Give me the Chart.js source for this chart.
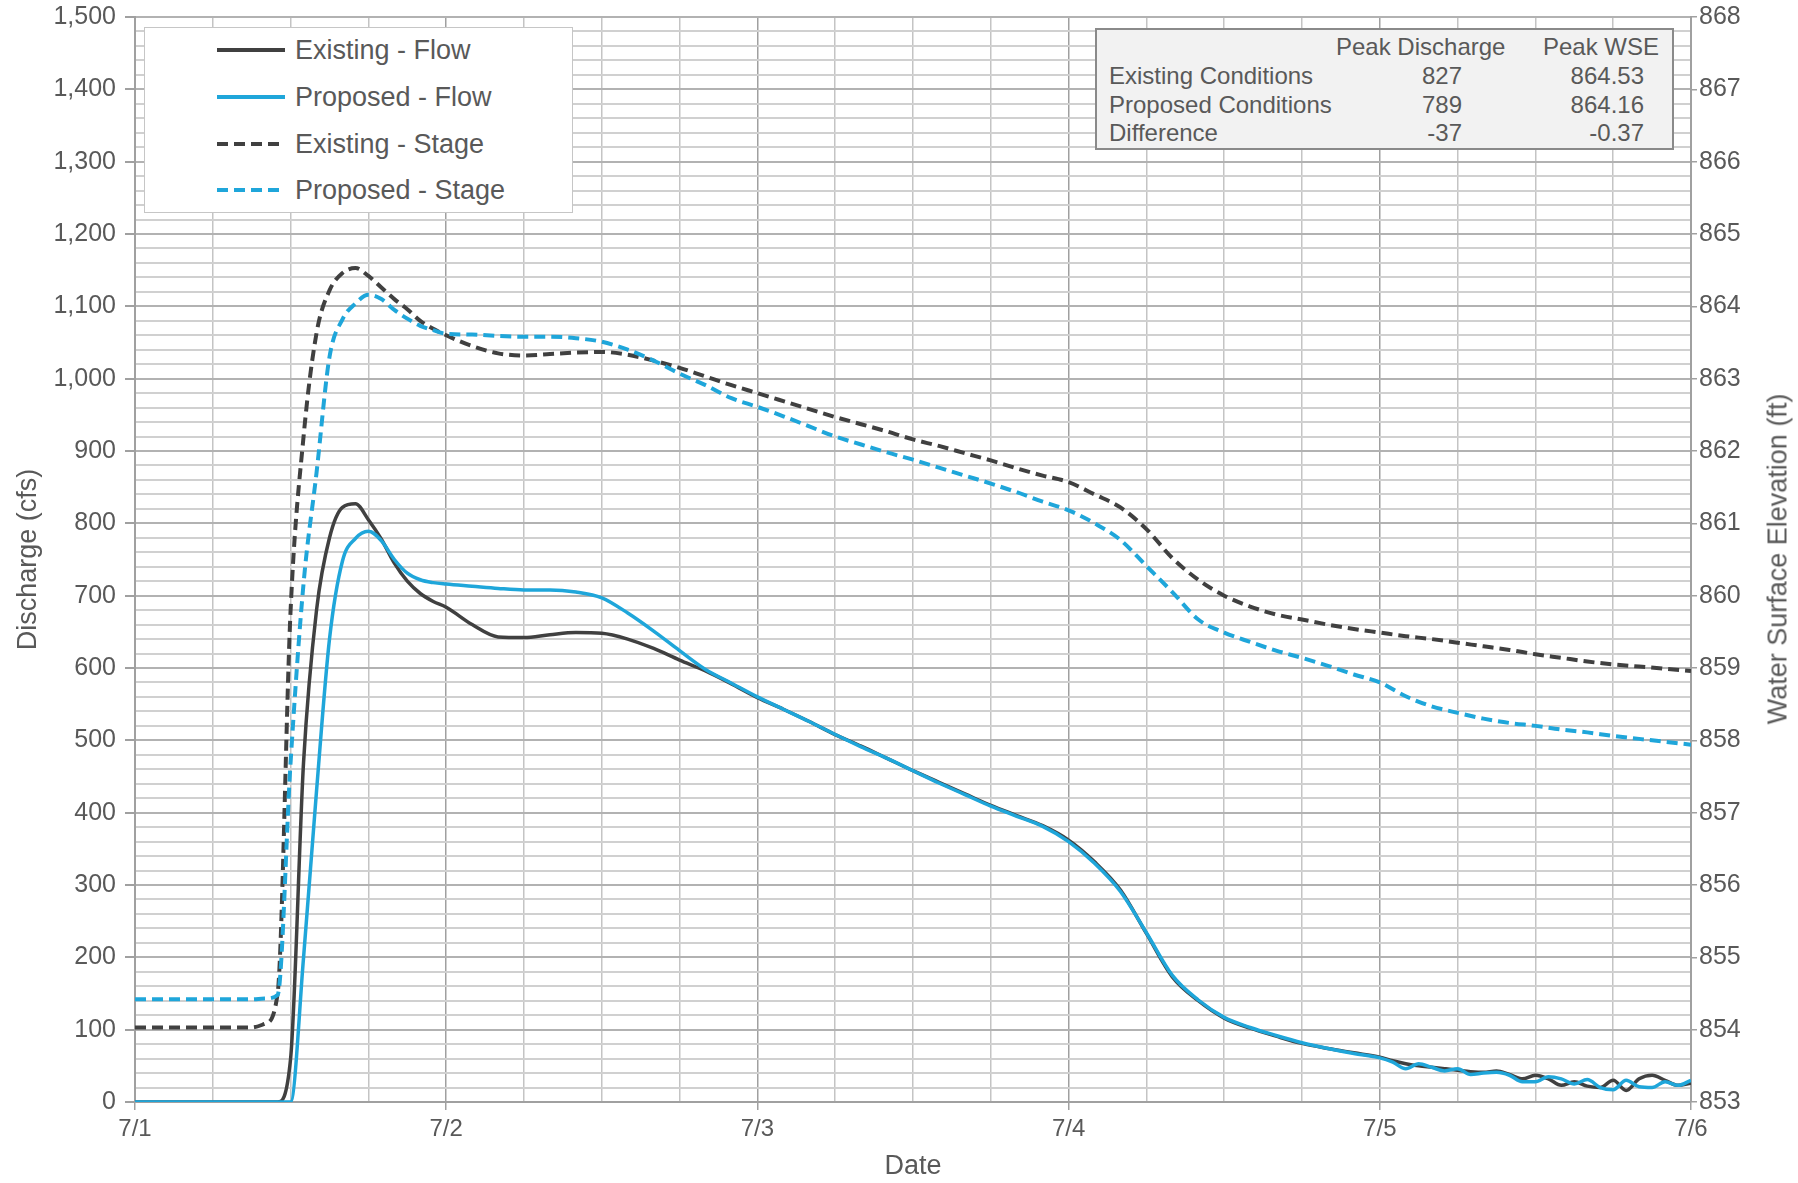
<!DOCTYPE html>
<html>
<head>
<meta charset="utf-8">
<title>Discharge and Stage Hydrograph</title>
<script src="https://cdn.jsdelivr.net/npm/chart.js@4.4.0/dist/chart.umd.min.js"></script>
<style>
  body { margin: 0; background: #fff; font-family: "Liberation Sans", Arial, sans-serif; color: #595959; }
  #wrap { position: relative; width: 1798px; height: 1183px; overflow: hidden; }
  #chart { position: absolute; left: 0; top: 0; }
  #legend { position: absolute; left: 144px; top: 27px; width: 429px; height: 186px; box-sizing: border-box;
            border: 1.5px solid #c6c6c6; background: #fff; }
  .item { position: absolute; left: 0; width: 100%; height: 40px; }
  .swatch { position: absolute; left: 72px; top: 18px; width: 68px; height: 4px; }
  .label { position: absolute; left: 150px; top: 0; font-size: 27px; line-height: 40px; white-space: nowrap; }
  #peaks { position: absolute; left: 1095px; top: 28px; width: 579px; height: 122px; box-sizing: border-box;
           border: 2px solid #8a8a8a; background: #f2f2f2; font-size: 24px; }
  .cell { position: absolute; line-height: 28px; white-space: nowrap; }
  #rtitle { position: absolute; left: 1778px; top: 559px; transform: translate(-50%, -50%) rotate(-90deg);
            font-size: 27px; white-space: nowrap; }
</style>
</head>
<body>
<div id="wrap">
  <canvas id="chart" width="1798" height="1183"></canvas>
  <div id="legend"></div>
  <div id="peaks"></div>
  <div id="rtitle">Water Surface Elevation (ft)</div>
</div>
<script>
// x axis: hours after midnight 7/1
const dateLabels = ['7/1', '7/2', '7/3', '7/4', '7/5', '7/6'];

const flowHours = [0, 11, 12, 13, 14, 15, 16, 17, 18, 19, 20, 21, 22, 23, 24,
  26, 28, 30, 32, 34, 36, 38, 40, 42, 44, 46, 48, 50, 52, 54, 56, 58, 60,
  62, 64, 66, 68, 70, 72, 74, 76, 78, 80, 82, 84, 86, 88, 90, 92, 94, 96,
  97, 98, 99, 100, 101, 102, 103, 104, 105, 106, 107, 108, 109, 110, 111, 112,
  113, 114, 115, 116, 117, 118, 119, 120];

// discharge, cfs
const existingFlow = [0, 0, 60, 470, 680, 780, 822, 827, 805, 778, 745, 720, 703, 692, 684,
  660, 643, 642, 646, 649, 648, 640, 627, 611, 596, 578, 559, 543, 526, 508, 492, 475, 458,
  442, 426, 410, 396, 382, 362, 332, 293, 233, 173, 140, 116, 102, 91, 81, 74, 68, 62,
  57, 53, 50, 48, 46, 44, 42, 41, 43, 38, 32, 37, 32, 23, 28, 22,
  20, 30, 16, 32, 37, 30, 23, 26];

const proposedFlow = [0, 0, 0, 200, 430, 640, 748, 779, 789, 776, 750, 731, 722, 718, 716,
  713, 710, 708, 708, 705, 697, 676, 651, 624, 598, 579, 560, 543, 526, 508, 491, 475, 458,
  441, 425, 409, 395, 381, 360, 330, 291, 234, 175, 141, 117, 103, 92, 82, 74, 67, 61,
  55, 46, 53, 48, 43, 46, 38, 40, 41, 37, 28, 28, 35, 32, 25, 31,
  20, 17, 30, 21, 20, 28, 23, 30];

const stageHours = [0, 9, 10, 11, 12, 13, 14, 15, 16, 17, 18, 19, 20, 21, 22, 23, 24,
  26, 28, 30, 32, 34, 36, 38, 40, 42, 44, 46, 48, 50, 52, 54, 56, 58, 60,
  62, 64, 66, 68, 70, 72, 74, 76, 78, 80, 82, 84, 86, 88, 90, 92, 94, 96,
  98, 100, 102, 104, 106, 108, 110, 112, 114, 116, 118, 120];

// water surface elevation, ft
const existingStage = [854.03, 854.03, 854.08, 854.50, 859.80, 862.20, 863.63, 864.22, 864.46, 864.53,
  864.42, 864.26, 864.10, 863.96, 863.80, 863.69, 863.60,
  863.45, 863.35, 863.32, 863.34, 863.36, 863.37, 863.33, 863.25, 863.15, 863.03, 862.91, 862.80,
  862.69, 862.58, 862.47, 862.37, 862.27, 862.16, 862.07, 861.97, 861.87, 861.76, 861.66, 861.57,
  861.40, 861.22, 860.92, 860.52, 860.22, 860.00, 859.85, 859.74, 859.67, 859.60, 859.54, 859.49,
  859.44, 859.40, 859.35, 859.30, 859.25, 859.19, 859.14, 859.09, 859.05, 859.02, 858.99, 858.96];

const proposedStage = [854.42, 854.42, 854.43, 854.48, 857.70, 860.17, 861.70, 863.30, 863.82, 864.04,
  864.16, 864.10, 863.95, 863.83, 863.73, 863.67, 863.62,
  863.61, 863.59, 863.58, 863.58, 863.56, 863.51, 863.40, 863.25, 863.07, 862.91, 862.73, 862.61,
  862.48, 862.34, 862.20, 862.09, 861.98, 861.88, 861.77, 861.66, 861.55, 861.43, 861.30, 861.18,
  861.00, 860.77, 860.41, 860.05, 859.67, 859.49, 859.36, 859.24, 859.14, 859.03, 858.91, 858.80,
  858.61, 858.47, 858.38, 858.30, 858.24, 858.20, 858.15, 858.11, 858.06, 858.02, 857.98, 857.94];

// summary table
const conditions = ['Existing Conditions', 'Proposed Conditions', 'Difference'];
const peakDischarge = ['827', '789', '-37'];
const peakWSE = ['864.53', '864.16', '-0.37'];

const dark = '#404040';
const blue = '#1fa6da';
const textColor = '#595959';

function pts(xs, ys) {
  return xs.map((x, i) => ({ x: x, y: ys[i] }));
}

const datasets = [
  { label: 'Existing - Flow', data: pts(flowHours, existingFlow), yAxisID: 'y',
    borderColor: dark, borderWidth: 3.5, order: 1 },
  { label: 'Proposed - Flow', data: pts(flowHours, proposedFlow), yAxisID: 'y',
    borderColor: blue, borderWidth: 3.5, order: 0 },
  { label: 'Existing - Stage', data: pts(stageHours, existingStage), yAxisID: 'y1',
    borderColor: dark, borderWidth: 4, borderDash: [11, 6], order: 3 },
  { label: 'Proposed - Stage', data: pts(stageHours, proposedStage), yAxisID: 'y1',
    borderColor: blue, borderWidth: 4, borderDash: [11, 6], order: 2 }
];

const ctx = document.getElementById('chart').getContext('2d');
const chart = new Chart(ctx, {
  type: 'line',
  data: { datasets: datasets },
  options: {
    responsive: false,
    animation: false,
    devicePixelRatio: 1,
    layout: { padding: { top: 17, left: 0, right: 0, bottom: 0 } },
    elements: {
      point: { radius: 0 },
      line: { cubicInterpolationMode: 'monotone', fill: false }
    },
    plugins: {
      legend: { display: false },
      tooltip: { enabled: false }
    },
    scales: {
      x: {
        type: 'linear',
        min: 0,
        max: 120,
        afterFit: s => { s.height = 81; },
        ticks: {
          stepSize: 6,
          autoSkip: false,
          maxRotation: 0,
          padding: 5,
          color: textColor,
          font: { family: 'Liberation Sans', size: 24 },
          callback: v => (v % 24 === 0 ? dateLabels[v / 24] : '')
        },
        grid: {
          color: c => (c.tick && c.tick.value % 24 === 0 ? '#a0a0a0' : '#c4c4c4'),
          lineWidth: 1.5,
          tickLength: 8,
          tickColor: c => (c.tick && c.tick.value % 24 === 0 ? '#a0a0a0' : 'rgba(0,0,0,0)')
        },
        border: { color: '#a0a0a0', width: 2 },
        title: {
          display: true,
          text: 'Date',
          color: textColor,
          font: { family: 'Liberation Sans', size: 27 },
          padding: { top: 0, bottom: 0 }
        }
      },
      y: {
        position: 'left',
        min: 0,
        max: 1500,
        afterFit: s => { s.width = 135; },
        ticks: {
          stepSize: 20,
          autoSkip: false,
          padding: 9,
          color: textColor,
          font: { family: 'Liberation Sans', size: 25, lineHeight: 0.6 },
          callback: v => (v % 100 === 0 ? v.toLocaleString('en-US') : '')
        },
        grid: {
          color: c => (c.tick && c.tick.value % 100 === 0 ? '#b2b2b2' : '#d0d0d0'),
          lineWidth: 2,
          tickLength: 10,
          tickColor: c => (c.tick && c.tick.value % 100 === 0 ? '#a0a0a0' : 'rgba(0,0,0,0)')
        },
        border: { color: '#a0a0a0', width: 2 },
        title: {
          display: true,
          text: 'Discharge (cfs)',
          color: textColor,
          font: { family: 'Liberation Sans', size: 27 },
          padding: { top: 12, bottom: 0 }
        }
      },
      y1: {
        position: 'right',
        min: 853,
        max: 868,
        afterFit: s => { s.width = 107; },
        ticks: {
          stepSize: 1,
          autoSkip: false,
          padding: 2,
          color: textColor,
          font: { family: 'Liberation Sans', size: 25, lineHeight: 0.6 },
          callback: v => String(v)
        },
        grid: {
          drawOnChartArea: false,
          tickLength: 6,
          color: '#a0a0a0',
          lineWidth: 1.5
        },
        border: { color: '#a0a0a0', width: 2 }
      }
    }
  }
});

// legend box inside the plot, using the dataset styles
const legend = document.getElementById('legend');
const rowTops = [2, 49, 96, 142];
chart.data.datasets.forEach((ds, i) => {
  const item = document.createElement('div');
  item.className = 'item';
  item.style.top = rowTops[i] + 'px';
  const sw = document.createElement('div');
  sw.className = 'swatch';
  if (ds.borderDash) {
    sw.style.background = 'repeating-linear-gradient(to right, ' + ds.borderColor + ' 0 11px, transparent 11px 17px)';
  } else {
    sw.style.background = ds.borderColor;
    sw.style.height = '3.5px';
  }
  const lb = document.createElement('div');
  lb.className = 'label';
  lb.textContent = ds.label;
  item.appendChild(sw);
  item.appendChild(lb);
  legend.appendChild(item);
});

// peak summary table
const peaks = document.getElementById('peaks');
function cell(text, top, left, right) {
  const d = document.createElement('div');
  d.className = 'cell';
  d.textContent = text;
  d.style.top = top + 'px';
  if (left !== null) d.style.left = left + 'px';
  if (right !== null) d.style.right = right + 'px';
  peaks.appendChild(d);
}
cell('Peak Discharge', 3, 239, null);
cell('Peak WSE', 3, 446, null);
conditions.forEach((name, i) => {
  const top = 32 + i * 28.5;
  cell(name, top, 12, null);
  cell(peakDischarge[i], top, null, 210);
  cell(peakWSE[i], top, null, 28);
});
</script>
</body>
</html>
